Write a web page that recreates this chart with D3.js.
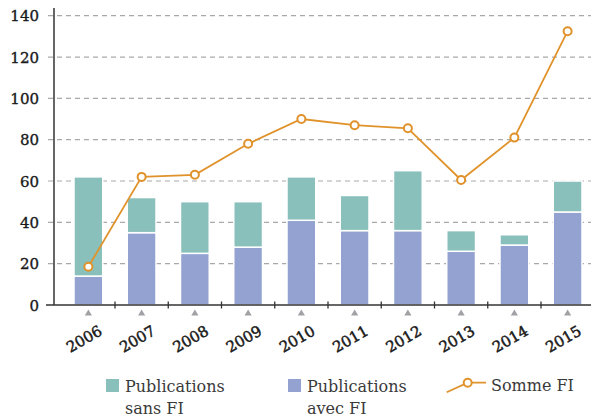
<!DOCTYPE html>
<html>
<head>
<meta charset="utf-8">
<script src="https://cdn.jsdelivr.net/npm/d3@7"></script>
<style>
  body { margin: 0; background: #fff; }
  svg text { font-family: "DejaVu Serif", serif; }
</style>
</head>
<body>
<div id="chart"></div>
<script>
// data
const years = ["2006", "2007", "2008", "2009", "2010", "2011", "2012", "2013", "2014", "2015"];
const avecFI = [14, 35, 25, 28, 41, 36, 36, 26, 29, 45];
const sansFI = [48, 17, 25, 22, 21, 17, 29, 10, 5, 15];
const sommeFI = [18.5, 62, 63, 78, 90, 87, 85.5, 60.5, 81, 132.5];
const yTicks = [0, 20, 40, 60, 80, 100, 120, 140];

const width = 591, height = 419;
const colSans = "#89c0bb", colAvec = "#93a2d1", colLine = "#e0922b";

const svg = d3.select("#chart")
  .append("svg")
  .attr("width", width)
  .attr("height", height);

const x = d3.scaleBand()
  .domain(years)
  .range([61.75, 594.25])
  .paddingInner(0.46)
  .paddingOuter(0.23);

const y = d3.scaleLinear()
  .domain([0, 140])
  .range([305, 15.7]);

// dashed gridlines
svg.append("g")
  .selectAll("line")
  .data(yTicks.slice(1))
  .join("line")
    .attr("x1", 48)
    .attr("x2", width)
    .attr("y1", d => y(d))
    .attr("y2", d => y(d))
    .attr("stroke", "#a9a9a9")
    .attr("stroke-width", 1.2)
    .attr("stroke-dasharray", "5,4");

// y labels
svg.append("g")
  .selectAll("text")
  .data(yTicks)
  .join("text")
    .attr("x", 39)
    .attr("y", d => y(d) + 5.5)
    .attr("text-anchor", "end")
    .attr("fill", "#1a1a1a")
    .attr("stroke", "#1a1a1a")
    .attr("stroke-width", 0.35)
    .style("font-size", "15px")
    .text(d => d);

// stacked bars
const bars = svg.append("g");
bars.selectAll(".avec")
  .data(years)
  .join("rect")
    .attr("x", d => x(d))
    .attr("width", x.bandwidth())
    .attr("y", (d, i) => y(avecFI[i]))
    .attr("height", (d, i) => y(0) - y(avecFI[i]))
    .attr("fill", colAvec)
    .attr("stroke", "#fff")
    .attr("stroke-width", 1.5);

bars.selectAll(".sans")
  .data(years)
  .join("rect")
    .attr("x", d => x(d))
    .attr("width", x.bandwidth())
    .attr("y", (d, i) => y(avecFI[i] + sansFI[i]))
    .attr("height", (d, i) => y(avecFI[i]) - y(avecFI[i] + sansFI[i]))
    .attr("fill", colSans)
    .attr("stroke", "#fff")
    .attr("stroke-width", 1.5);

// axes
svg.append("line")
  .attr("x1", 54).attr("x2", 54)
  .attr("y1", 8).attr("y2", 305)
  .attr("stroke", "#333").attr("stroke-width", 1.5);

svg.append("line")
  .attr("x1", 46).attr("x2", width)
  .attr("y1", 305).attr("y2", 305)
  .attr("stroke", "#333").attr("stroke-width", 1.5);

const step = x.step();
svg.append("g")
  .selectAll("line")
  .data(years.slice(1))
  .join("line")
    .attr("x1", d => x(d) - (step - x.bandwidth()) / 2)
    .attr("x2", d => x(d) - (step - x.bandwidth()) / 2)
    .attr("y1", 301.5)
    .attr("y2", 308.5)
    .attr("stroke", "#333")
    .attr("stroke-width", 1.3);

// small triangles under bars
svg.append("g")
  .selectAll("path")
  .data(years)
  .join("path")
    .attr("transform", d => `translate(${x(d) + x.bandwidth() / 2},313.5)`)
    .attr("d", d3.symbol(d3.symbolTriangle, 22))
    .attr("fill", "#a0a0a5");

// year labels
svg.append("g")
  .selectAll("text")
  .data(years)
  .join("text")
    .attr("transform", d => `translate(${x(d) + x.bandwidth() / 2 + 15},334) rotate(-30)`)
    .attr("text-anchor", "end")
    .attr("fill", "#1a1a1a")
    .attr("stroke", "#1a1a1a")
    .attr("stroke-width", 0.5)
    .style("font-size", "15px")
    .text(d => d);

// Somme FI line
const line = d3.line()
  .x((d, i) => x(years[i]) + x.bandwidth() / 2)
  .y(d => y(d));

svg.append("path")
  .datum(sommeFI)
  .attr("d", line)
  .attr("fill", "none")
  .attr("stroke", colLine)
  .attr("stroke-width", 1.8);

svg.append("g")
  .selectAll("circle")
  .data(sommeFI)
  .join("circle")
    .attr("cx", (d, i) => x(years[i]) + x.bandwidth() / 2)
    .attr("cy", d => y(d))
    .attr("r", 4)
    .attr("fill", "#fff")
    .attr("stroke", colLine)
    .attr("stroke-width", 2);

// legend
const legend = svg.append("g").style("font-size", "16px").attr("fill", "#3a3a3a");

legend.append("rect").attr("x", 106).attr("y", 379).attr("width", 13).attr("height", 13).attr("fill", colSans);
legend.append("text").attr("x", 125).attr("y", 392).text("Publications");
legend.append("text").attr("x", 125).attr("y", 414).text("sans FI");

legend.append("rect").attr("x", 288).attr("y", 379).attr("width", 13).attr("height", 13).attr("fill", colAvec);
legend.append("text").attr("x", 307).attr("y", 392).text("Publications");
legend.append("text").attr("x", 307).attr("y", 414).text("avec FI");

legend.append("path")
  .attr("d", "M446.7,392.3L467.7,382.7L486,382.7")
  .attr("fill", "none")
  .attr("stroke", colLine)
  .attr("stroke-width", 1.8);
legend.append("circle")
  .attr("cx", 467.7).attr("cy", 382.7).attr("r", 4)
  .attr("fill", "#fff").attr("stroke", colLine).attr("stroke-width", 2);
legend.append("text").attr("x", 491).attr("y", 391).text("Somme FI");
</script>
</body>
</html>
